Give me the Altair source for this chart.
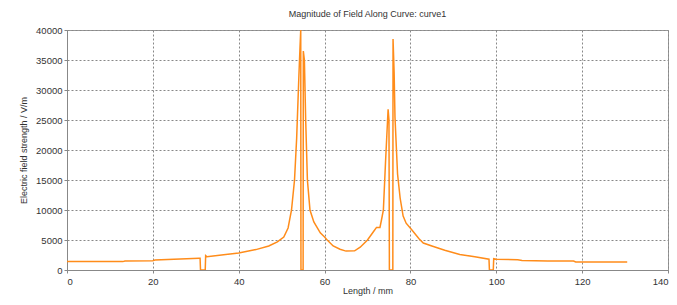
import altair as alt
import pandas as pd

length_mm = [0, 13, 13.5, 20, 20.5, 30.8, 31.0, 31.1, 32.2, 32.3, 32.6, 36, 40, 44, 47, 49, 50.5, 51.5,
             52.3, 53, 53.5, 54.0, 54.3, 54.45, 54.5, 55.0, 55.05, 55.3, 55.6, 56.0, 56.6, 57.5, 59, 60,
             60.5, 62, 63.6, 65, 67, 68.3, 70, 71.5, 72.1, 72.9, 73.3, 73.7, 74.2, 74.8, 75.0, 75.1, 75.9,
             75.95, 76.2, 76.4, 77, 77.6, 78.3, 79, 80.3, 82, 83, 85, 88, 91.5, 95, 98.3, 98.4, 99.3, 99.4,
             100, 105, 106, 112, 118, 118.5, 130.5]
field_vm = [1400, 1400, 1500, 1550, 1650, 1950, 1950, 0, 0, 2400, 2200, 2500, 2850, 3400, 4000, 4700, 5500, 7000,
            10000, 15000, 22000, 32000, 37500, 40000, 0, 0, 36500, 35000, 25000, 15000, 10000, 8000, 6200, 5500,
            5100, 4000, 3450, 3150, 3200, 3800, 5000, 6500, 7100, 7100, 8500, 10000, 18000, 26800, 25000, 0, 0,
            38500, 33000, 25500, 16000, 12000, 9000, 7800, 6700, 5200, 4500, 4000, 3300, 2600, 2200, 1800, 0, 0, 1900,
            1800, 1700, 1600, 1500, 1500, 1350, 1320]

df = pd.DataFrame({"x": length_mm, "y": field_vm, "i": range(len(length_mm))})

FONT = "Liberation Sans"

chart = alt.Chart(df).mark_line(color="#ff8c1a", strokeWidth=1.5, clip=True).encode(
    x=alt.X("x:Q", scale=alt.Scale(domain=[0, 140], nice=False),
            axis=alt.Axis(title="Length / mm", values=[0, 20, 40, 60, 80, 100, 120, 140])),
    y=alt.Y("y:Q", scale=alt.Scale(domain=[0, 40000], nice=False),
            axis=alt.Axis(title="Electric field strength / V/m", format="d",
                          values=[0, 5000, 10000, 15000, 20000, 25000, 30000, 35000, 40000])),
    order="i:Q",
).properties(
    width=601, height=240,
    title=alt.TitleParams("Magnitude of Field Along Curve: curve1", fontSize=9, font=FONT,
                          fontWeight="normal", color="#333333", offset=6),
    autosize=alt.AutoSizeParams(type="none"),
    padding={"left": 59, "top": 22, "right": 1, "bottom": 27},
).configure_view(
    stroke="#999999", strokeWidth=1
).configure_axis(
    grid=True, gridDash=[2, 2], gridColor="#888888", gridOpacity=1, gridWidth=1,
    domainColor="#888888", tickColor="#888888", tickSize=3,
    labelFont=FONT, labelFontSize=9.5, labelColor="#333333",
    titleFont=FONT, titleFontSize=9, titleFontWeight="normal", titleColor="#333333",
).configure_axisX(
    labelPadding=3, titlePadding=1
).configure_axisY(
    labelPadding=2, titlePadding=7
)

chart.save("out.html", embed_options={"renderer": "svg", "actions": False})
